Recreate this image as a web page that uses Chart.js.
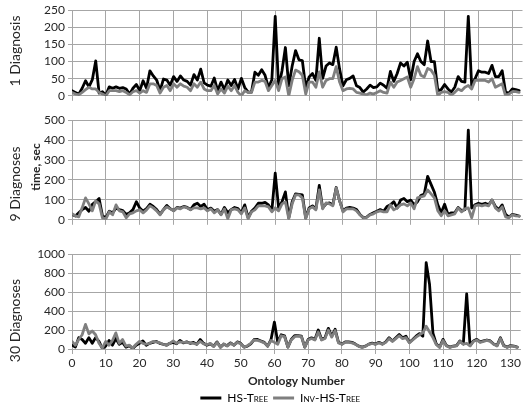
<!DOCTYPE html>
<html>
<head>
<meta charset="utf-8">
<script src="https://cdn.jsdelivr.net/npm/chart.js@4.4.0/dist/chart.umd.min.js"></script>
<style>
  html, body { margin: 0; padding: 0; background: #fff; width: 524px; height: 406px; overflow: hidden; }
  .panel { position: absolute; left: 0; width: 524px; }
  #p1 { top: 0; height: 106px; }
  #p2 { top: 110px; height: 120px; }
  #p3 { top: 244px; height: 170px; }
</style>
</head>
<body>
<div class="panel" id="p1"><canvas id="c1"></canvas></div>
<div class="panel" id="p2"><canvas id="c2"></canvas></div>
<div class="panel" id="p3"><canvas id="c3"></canvas></div>
<script>
// Run time per ontology (index = ontology number)
const hsTree1 = [15,10,5,22,44,26,47,102,8,12, 2,26,22,26,22,24,20,5,22,33, 15,44,22,73,58,46,15,49,46,31,
  56,42,58,46,42,31,62,46,78,38, 31,28,52,15,40,18,46,30,48,20, 51,24,11,11,69,60,76,60,24,47,
  232,24,73,141,29,87,132,105,103,24, 55,65,45,168,51,87,96,91,142,78, 29,47,51,58,29,24,11,20,31,24,
  26,37,31,22,71,42,65,96,87,98, 47,100,123,100,91,160,100,100,15,18, 33,20,11,25,56,42,40,232,29,50,
  73,69,69,65,89,56,56,73,11,8, 20,18,15];
const invHsTree1 = [10,5,3,10,18,25,20,20,10,5, 0,15,15,15,12,15,10,3,12,15, 8,15,10,35,35,30,8,25,30,15,
  35,25,35,28,25,15,35,25,40,20, 15,15,30,5,20,8,28,15,30,10, 0,15,10,10,40,40,45,42,15,30,
  45,15,50,55,0,45,75,70,60,5, 40,40,25,70,25,45,50,50,85,40, 15,20,22,20,10,8,5,3,8,5,
  10,15,10,8,40,25,40,45,50,55, 25,50,85,60,55,80,75,60,0,10, 12,10,2,10,20,15,25,30,20,45,
  45,45,45,40,50,25,30,35,0,5, 12,12,10];

const hsTree9 = [27,19,35,51,62,43,78,91,107,19, 11,43,35,59,51,46,27,35,51,91, 59,43,56,78,67,51,27,51,72,56,
  46,62,59,67,62,51,75,83,67,78, 51,59,43,51,27,62,35,51,62,56, 35,75,11,43,59,83,83,87,75,46,
  234,59,91,140,10,90,130,128,125,10, 60,70,55,173,60,80,85,75,162,95, 45,59,62,59,51,27,11,14,27,35,
  43,51,43,67,75,91,59,99,107,91, 99,75,91,122,130,218,178,138,75,35, 78,27,35,35,62,46,51,450,59,75,
  83,78,83,75,99,67,51,75,27,14, 27,24,19];
const invHsTree9 = [30,20,15,60,110,80,45,95,80,10, 5,40,25,75,45,40,10,30,35,45, 50,35,50,70,60,45,25,50,65,55,
  45,60,55,65,60,50,60,60,55,60, 45,55,35,50,25,55,5,50,55,50, 30,60,5,40,50,70,70,70,65,40,
  60,45,80,90,5,80,125,125,110,5, 55,65,50,150,55,85,80,70,160,95, 40,55,55,55,45,25,10,12,25,30,
  40,45,40,40,75,50,60,75,80,70, 85,55,110,115,120,150,130,110,45,20, 45,20,25,30,60,40,55,60,10,70,
  75,70,75,70,100,60,45,65,15,10, 25,20,18];

const hsTree30 = [40,20,120,100,60,120,60,120,80,5, 30,90,40,110,50,70,20,35,5,40, 60,85,40,60,70,80,60,50,40,60,
  70,55,90,65,75,60,70,50,100,60, 40,55,30,75,20,50,35,65,40,75, 60,20,30,55,100,100,85,70,30,100,
  284,70,150,140,20,100,142,142,135,20, 100,118,100,200,100,118,218,135,208,70, 52,75,75,70,52,30,20,30,52,62,
  52,70,52,75,119,85,119,152,119,135, 70,100,135,162,135,911,680,168,52,20, 102,36,20,30,36,85,52,581,36,85,
  102,75,85,95,85,52,36,119,36,20, 36,30,20];
const invHsTree30 = [80,40,100,150,260,160,190,150,60,10, 80,40,90,170,60,100,30,40,10,50, 80,60,50,60,80,75,65,50,40,60,
  85,60,75,70,70,65,60,50,80,55, 45,60,25,70,15,55,30,60,40,70, 55,20,35,60,95,90,80,65,30,90,
  70,50,140,130,20,95,130,135,130,20, 95,110,95,180,95,110,200,125,195,65, 50,70,70,65,50,28,18,28,50,58,
  50,65,50,70,110,80,110,140,110,120, 65,95,125,150,170,240,180,120,45,18, 90,32,18,28,32,80,50,60,32,80,
  95,70,80,90,80,50,32,110,32,18, 32,28,18];

const seriesNames = ["HS-Tree", "Inv-HS-Tree"];
const seriesColors = ["#000000", "#7f7f7f"];
const panelMax = [250, 500, 1000];
const panelStep = [50, 100, 200];
const xMax = 133;
const xStep = 10;

const gridColor = "#a6a6a6";
const textColor = "#262626";

// rotated labels left of the plot
const sideLabels = {
  id: "sideLabels",
  afterDraw(chart, args, opts) {
    const { ctx, chartArea } = chart;
    const mid = (chartArea.top + chartArea.bottom) / 2;
    (opts.items || []).forEach((item) => {
      ctx.save();
      ctx.translate(item.x, mid + item.dy);
      ctx.rotate(-Math.PI / 2);
      ctx.font = item.font;
      ctx.fillStyle = textColor;
      ctx.textAlign = "center";
      ctx.textBaseline = "middle";
      ctx.fillText(item.text, 0, 0);
      ctx.restore();
    });
  }
};

function toPoints(values) {
  return values.map((v, i) => ({ x: i, y: v }));
}

function makePanel(canvasId, hs, inv, yMax, yStep, opts) {
  return new Chart(document.getElementById(canvasId), {
    type: "line",
    data: {
      datasets: [
        { label: seriesNames[0], data: toPoints(hs), borderColor: seriesColors[0], backgroundColor: seriesColors[0], order: 2 },
        { label: seriesNames[1], data: toPoints(inv), borderColor: seriesColors[1], backgroundColor: seriesColors[1], order: 1 }
      ]
    },
    options: {
      animation: false,
      responsive: true,
      maintainAspectRatio: false,
      layout: { padding: { left: opts.padLeft, right: 1.5, top: 0, bottom: 0 } },
      elements: {
        point: { radius: 0 },
        line: { borderWidth: 2.8, tension: 0, borderJoinStyle: "round", borderCapStyle: "round" }
      },
      scales: {
        x: {
          type: "linear",
          min: 0,
          max: xMax,
          afterBuildTicks: (scale) => {
            scale.ticks = scale.ticks.filter((t) => t.value % xStep === 0);
          },
          ticks: {
            display: opts.showX,
            stepSize: xStep,
            includeBounds: false,
            autoSkip: false,
            maxRotation: 0,
            padding: 3,
            color: textColor,
            font: { family: "Lato", size: 12, lineHeight: 1 },
            callback: (v) => String(v)
          },
          grid: { color: gridColor, tickLength: 5 },
          border: { color: gridColor },
          title: {
            display: opts.showX,
            text: "Ontology Number",
            color: textColor,
            font: { family: "Lato", size: 12, weight: "bold", lineHeight: 1 },
            padding: { top: 3, bottom: 0 }
          }
        },
        y: {
          min: 0,
          max: yMax,
          afterFit: (scale) => { scale.width = opts.axisWidth; },
          ticks: {
            stepSize: yStep,
            padding: 3,
            color: textColor,
            font: { family: "Lato", size: 12, lineHeight: 1.2 },
            callback: (v) => String(v)
          },
          grid: { color: gridColor, tickLength: 4 },
          border: { color: gridColor }
        }
      },
      plugins: {
        tooltip: { enabled: false },
        legend: {
          display: opts.showLegend,
          position: "bottom",
          labels: {
            boxWidth: 21,
            boxHeight: 3,
            padding: 5,
            color: textColor,
            font: { family: "Lato", size: 12, weight: "small-caps" },
            generateLabels: (chart) => chart.data.datasets.map((ds, i) => ({
              text: ds.label,
              fillStyle: ds.borderColor,
              strokeStyle: ds.borderColor,
              lineWidth: 0,
              hidden: false,
              datasetIndex: i
            }))
          }
        },
        sideLabels: { items: opts.labels }
      }
    },
    plugins: [sideLabels]
  });
}

makePanel("c1", hsTree1, invHsTree1, panelMax[0], panelStep[0], {
  padLeft: 0, axisWidth: 72, showX: false, showLegend: false,
  labels: [{ text: "1 Diagnosis", x: 15, dy: -2, font: "14px Lato" }]
});

makePanel("c2", hsTree9, invHsTree9, panelMax[1], panelStep[1], {
  padLeft: 0, axisWidth: 72, showX: false, showLegend: false,
  labels: [
    { text: "9 Diagnoses", x: 15, dy: 14, font: "14px Lato" },
    { text: "time, sec", x: 36, dy: -3, font: "bold 12px Lato" }
  ]
});

makePanel("c3", hsTree30, invHsTree30, panelMax[2], panelStep[2], {
  padLeft: 38, axisWidth: 34, showX: true, showLegend: true,
  labels: [{ text: "30 Diagnoses", x: 15, dy: 19, font: "14px Lato" }]
});
</script>
</body>
</html>
